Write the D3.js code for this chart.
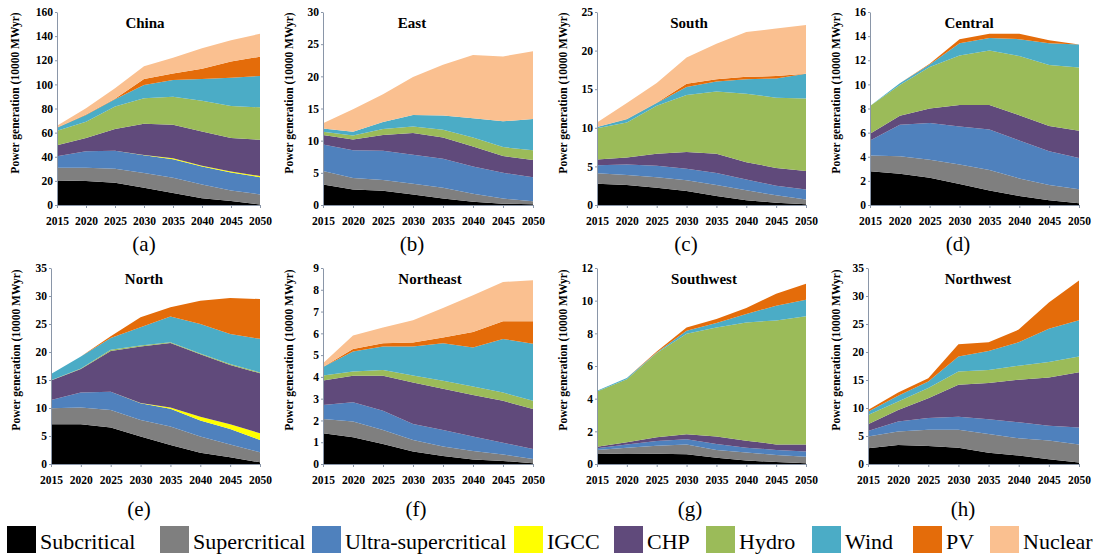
<!DOCTYPE html>
<html>
<head>
<meta charset="utf-8">
<script src="https://cdn.jsdelivr.net/npm/d3@7"></script>
<style>
  body { margin: 0; background: #fff; }
  svg text { font-family: "Liberation Serif", "Times New Roman", serif; }
</style>
</head>
<body>
<div class="main"></div>
<script>
// categories
var years = [2015, 2020, 2025, 2030, 2035, 2040, 2045, 2050];
var techs = ["Subcritical", "Supercritical", "Ultra-supercritical", "IGCC", "CHP", "Hydro", "Wind", "PV", "Nuclear"];
var colors = ["#000000", "#7f7f7f", "#4f81bd", "#ffff00", "#604a7b", "#9bbb59", "#4bacc6", "#e46c0a", "#fac090"];

// power generation (10000 MWyr), one row per tech in the order above
var china = [
  [20.3, 20, 18.4, 14.3, 10, 5.5, 3.3, 0.5],
  [10.5, 10.8, 11.6, 12.3, 12.5, 11.5, 8.7, 8.3],
  [9.6, 13.7, 15, 14.6, 15.5, 15, 15, 14.2],
  [0, 0, 0, 0.2, 0.8, 0.5, 0.8, 1.0],
  [9.1, 11, 18, 25.9, 27.7, 28.5, 27.7, 30],
  [12, 13.5, 18.6, 21.2, 23.3, 25.5, 26.5, 27],
  [2.5, 5.7, 6, 11, 13.8, 17.9, 23.5, 26],
  [0.2, 0.3, 0.4, 4.9, 5.4, 8.6, 13.5, 16],
  [1.5, 5.2, 8.7, 10.6, 13, 17, 17.5, 19]
];
var east = [
  [3.2, 2.4, 2.2, 1.65, 1.0, 0.5, 0.2, 0.1],
  [2.1, 1.8, 1.7, 1.65, 1.7, 1.25, 0.8, 0.5],
  [4.1, 4.3, 4.55, 4.5, 4.5, 4.25, 4.0, 3.7],
  [0, 0, 0, 0, 0, 0, 0, 0],
  [1.5, 1.7, 2.45, 3.4, 3.3, 3.1, 2.6, 2.7],
  [0.5, 0.6, 0.9, 1.0, 1.2, 1.4, 1.4, 1.5],
  [0.5, 0.6, 1.1, 1.8, 2.2, 3.0, 4.0, 4.85],
  [0, 0, 0, 0, 0, 0, 0, 0],
  [0.8, 3.5, 4.3, 5.9, 7.9, 9.8, 10.1, 10.55]
];
var south = [
  [2.75, 2.6, 2.25, 1.8, 1.15, 0.6, 0.3, 0.1],
  [1.35, 1.3, 1.35, 1.4, 1.45, 1.3, 0.95, 0.6],
  [1.05, 1.35, 1.5, 1.5, 1.55, 1.4, 1.25, 1.3],
  [0, 0, 0, 0, 0, 0, 0, 0],
  [0.75, 0.9, 1.55, 2.15, 2.5, 2.25, 2.3, 2.4],
  [4.05, 4.55, 6.2, 7.4, 8.05, 8.85, 9.1, 9.4],
  [0.15, 0.4, 0.35, 1.05, 1.3, 1.9, 2.5, 3.2],
  [0, 0.05, 0.05, 0.4, 0.3, 0.3, 0.3, 0],
  [0.6, 2.05, 2.55, 3.4, 4.6, 5.8, 6.15, 6.3]
];
var central = [
  [2.8, 2.6, 2.25, 1.75, 1.2, 0.75, 0.4, 0.15],
  [1.3, 1.45, 1.5, 1.6, 1.7, 1.45, 1.25, 1.15],
  [1.25, 2.6, 3.05, 3.15, 3.35, 3.15, 2.8, 2.6],
  [0, 0, 0, 0, 0, 0, 0, 0],
  [0.55, 0.75, 1.2, 1.8, 2.05, 2.1, 2.1, 2.25],
  [2.3, 2.55, 3.45, 4.1, 4.5, 4.9, 5.05, 5.25],
  [0, 0.15, 0.2, 1.0, 1.05, 1.4, 1.8, 1.9],
  [0, 0, 0.05, 0.35, 0.35, 0.45, 0.25, 0],
  [0, 0, 0, 0, 0, 0, 0, 0]
];
var north = [
  [7.1, 7.1, 6.5, 4.9, 3.4, 2.0, 1.2, 0.3],
  [2.85, 3.0, 3.15, 2.95, 3.3, 2.9, 2.3, 1.8],
  [1.5, 2.65, 3.25, 3.0, 3.15, 2.85, 2.75, 2.2],
  [0, 0, 0, 0.05, 0.25, 0.7, 0.85, 1.2],
  [3.45, 4.2, 7.3, 10.1, 11.5, 11.15, 10.6, 10.7],
  [0.05, 0.1, 0.2, 0.15, 0.15, 0.15, 0.15, 0.15],
  [1.1, 2.15, 2.1, 3.25, 4.6, 5.25, 5.35, 6.0],
  [0, 0, 0.3, 1.8, 1.65, 4.15, 6.45, 7.1],
  [0, 0, 0, 0, 0, 0, 0, 0]
];
var northeast = [
  [1.41, 1.23, 0.92, 0.57, 0.37, 0.21, 0.14, 0.03],
  [0.66, 0.72, 0.64, 0.53, 0.43, 0.39, 0.3, 0.2],
  [0.64, 0.89, 0.89, 0.74, 0.76, 0.66, 0.54, 0.46],
  [0, 0, 0, 0, 0, 0, 0, 0],
  [1.12, 1.21, 1.6, 1.9, 1.89, 1.91, 1.92, 1.84],
  [0.23, 0.2, 0.27, 0.32, 0.37, 0.39, 0.38, 0.38],
  [0.39, 0.92, 1.08, 1.34, 1.73, 1.79, 2.46, 2.61],
  [0, 0.11, 0.15, 0.18, 0.26, 0.71, 0.81, 1.03],
  [0.18, 0.62, 0.72, 1.02, 1.35, 1.69, 1.81, 1.89]
];
var southwest = [
  [0.61, 0.65, 0.63, 0.59, 0.39, 0.22, 0.12, 0.04],
  [0.25, 0.35, 0.49, 0.61, 0.47, 0.48, 0.43, 0.41],
  [0.1, 0.2, 0.29, 0.31, 0.37, 0.3, 0.31, 0.31],
  [0, 0, 0, 0, 0, 0, 0, 0],
  [0.1, 0.13, 0.23, 0.31, 0.45, 0.43, 0.34, 0.44],
  [3.38, 3.86, 5.15, 6.16, 6.68, 7.24, 7.59, 7.84],
  [0.04, 0.07, 0.04, 0.18, 0.27, 0.51, 0.9, 1.02],
  [0, 0, 0.06, 0.2, 0.25, 0.37, 0.74, 0.98],
  [0, 0, 0, 0, 0, 0, 0, 0]
];
var northwest = [
  [2.8, 3.4, 3.2, 2.9, 2.0, 1.5, 0.85, 0.25],
  [2.1, 2.4, 2.9, 3.2, 3.35, 3.1, 3.35, 3.25],
  [1.0, 1.8, 2.1, 2.35, 2.65, 2.85, 2.65, 3.0],
  [0, 0, 0, 0, 0, 0, 0, 0],
  [1.2, 2.05, 3.55, 5.7, 6.45, 7.6, 8.6, 9.9],
  [1.65, 1.5, 1.8, 2.35, 2.35, 2.5, 2.75, 2.8],
  [0.6, 1.05, 1.2, 2.7, 3.4, 4.2, 5.95, 6.45],
  [0.3, 0.55, 0.55, 2.2, 1.55, 2.25, 4.7, 7.1],
  [0, 0, 0, 0, 0, 0, 0, 0]
];

var regions = ["China", "East", "South", "Central", "North", "Northeast", "Southwest", "Northwest"];
var regionData = [china, east, south, central, north, northeast, southwest, northwest];
var yMax = [160, 30, 25, 16, 35, 9, 12, 35];
var yStep = [20, 5, 5, 2, 5, 1, 2, 5];
var panelTags = ["(a)", "(b)", "(c)", "(d)", "(e)", "(f)", "(g)", "(h)"];

function BuildGraph() {

  var svg = d3.select(".main")
    .append("svg")
    .attr("width", 1093)
    .attr("height", 555);

  // plot boxes: left, right, top, bottom + title / tag / axis title x
  var layout = [
    {l: 57, r: 260, t: 12, b: 205, tx: 145, gx: 144, ax: 15},
    {l: 323, r: 533, t: 12, b: 205, tx: 412, gx: 412, ax: 289},
    {l: 597, r: 806, t: 12, b: 205, tx: 689, gx: 686, ax: 563},
    {l: 870, r: 1079, t: 12, b: 205, tx: 969, gx: 958, ax: 836},
    {l: 51, r: 260, t: 268, b: 464, tx: 144, gx: 139, ax: 16},
    {l: 323, r: 533, t: 268, b: 464, tx: 430, gx: 416, ax: 289},
    {l: 597, r: 806, t: 268, b: 464, tx: 704, gx: 690, ax: 563},
    {l: 868, r: 1079, t: 268, b: 464, tx: 978, gx: 963, ax: 836}
  ];
  var axisColor = "#8a96a8";

  regions.forEach(function(name, i) {
    var p = layout[i];
    var rows = years.map(function(yr, j) {
      var row = {year: yr};
      techs.forEach(function(t, k) {
        row[t] = regionData[i][k][j];
      });
      return row;
    });

    var series = d3.stack().keys(techs)(rows);

    var x = d3.scaleLinear()
      .domain([2015, 2050])
      .range([p.l, p.r]);

    var y = d3.scaleLinear()
      .domain([0, yMax[i]])
      .range([p.b, p.t]);

    var g = svg.append("g");

    //stacked areas
    g.selectAll("path.layer")
      .data(series)
      .join("path")
      .attr("class", "layer")
      .attr("fill", function(d, k) { return colors[k]; })
      .attr("d", d3.area()
        .x(function(d) { return x(d.data.year); })
        .y0(function(d) { return y(d[0]); })
        .y1(function(d) { return y(d[1]); }));

    //axes
    var ya = g.append("g")
      .attr("transform", "translate(" + p.l + ",0)")
      .call(d3.axisLeft(y)
        .tickValues(d3.range(0, yMax[i] + yStep[i] / 2, yStep[i]))
        .tickSize(2)
        .tickSizeOuter(0)
        .tickPadding(2));

    var xa = g.append("g")
      .attr("transform", "translate(0," + p.b + ")")
      .call(d3.axisBottom(x)
        .tickValues(years)
        .tickFormat(d3.format("d"))
        .tickSize(3)
        .tickSizeOuter(0)
        .tickPadding(9));

    [ya, xa].forEach(function(a) {
      a.attr("font-family", null);
      a.selectAll("path, line").attr("stroke", axisColor);
      a.selectAll("text")
        .attr("fill", "#000")
        .style("font-size", "11.5px")
        .style("font-weight", "bold");
    });

    //title
    g.append("text")
      .attr("x", p.tx)
      .attr("y", p.t + 16)
      .attr("text-anchor", "middle")
      .style("font-size", "15px")
      .style("font-weight", "bold")
      .text(name);

    //axis title
    g.append("text")
      .attr("transform", "translate(" + p.ax + "," + (i < 4 ? 93 : 350) + ") rotate(-90)")
      .attr("text-anchor", "middle")
      .attr("dy", "0.35em")
      .style("font-size", "11.5px")
      .style("font-weight", "bold")
      .text("Power generation (10000 MWyr)");

    //panel tag
    g.append("text")
      .attr("x", p.gx)
      .attr("y", i < 4 ? 251 : 516)
      .attr("text-anchor", "middle")
      .style("font-size", "21px")
      .text(panelTags[i]);
  });

  //legend
  var legendX = [7, 160, 312, 514, 614, 706, 812, 913, 990];
  var legend = svg.append("g");
  techs.forEach(function(t, k) {
    legend.append("rect")
      .attr("x", legendX[k])
      .attr("y", 526)
      .attr("width", 29)
      .attr("height", 27)
      .attr("fill", colors[k]);
    legend.append("text")
      .attr("x", legendX[k] + 33)
      .attr("y", 549)
      .style("font-size", "22px")
      .text(t);
  });
}

BuildGraph();
</script>
</body>
</html>
